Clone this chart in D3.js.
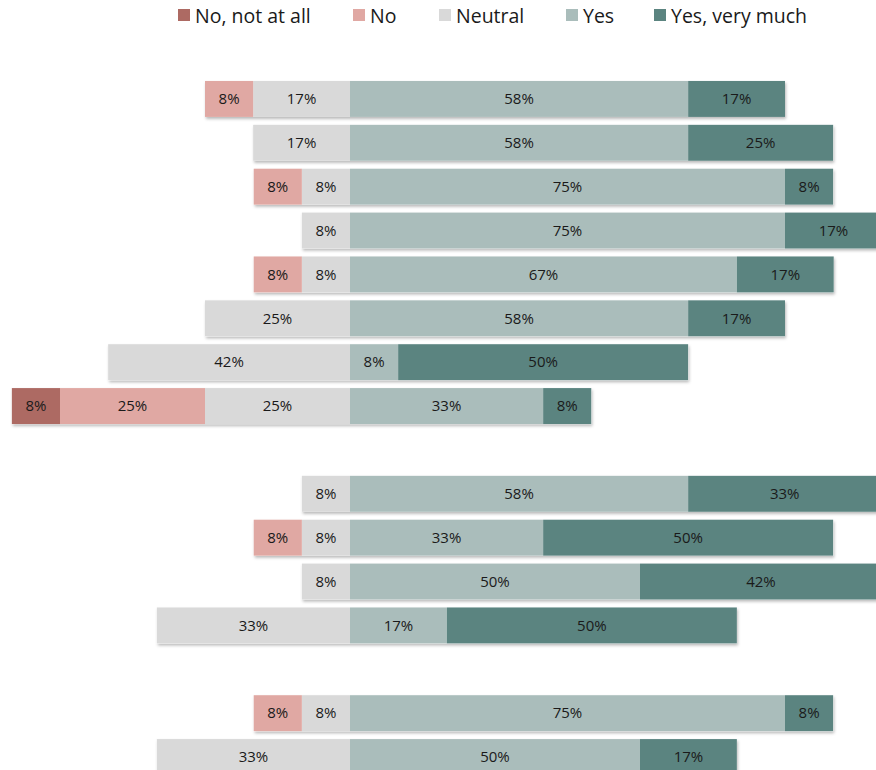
<!DOCTYPE html>
<html>
<head>
<meta charset="utf-8">
<script src="https://cdn.jsdelivr.net/npm/d3@7"></script>
<style>
  body { margin: 0; background: #fff; }
  svg { display: block; font-family: "Open Sans", "Noto Sans", sans-serif; }
</style>
</head>
<body>
<div id="chart"></div>
<script>
// answers per row, in percent (empty slots are gaps between groups)
var categories = ["No, not at all", "No", "Neutral", "Yes", "Yes, very much"];
var colors = ["#ad6a63", "#e0a8a3", "#d9d9d9", "#aabdbb", "#5b8480"];
var rowSlots = [0, 1, 2, 3, 4, 5, 6, 7, 9, 10, 11, 12, 14, 15];
var notAtAll = [0, 0, 0, 0, 0, 0, 0, 8.3, 0, 0, 0, 0, 0, 0];
var no       = [8.3, 0, 8.3, 0, 8.3, 0, 0, 25, 0, 8.3, 0, 0, 8.3, 0];
var neutral  = [16.7, 16.7, 8.3, 8.3, 8.3, 25, 41.7, 25, 8.3, 8.3, 8.3, 33.3, 8.3, 33.3];
var yes      = [58.3, 58.3, 75, 75, 66.7, 58.3, 8.3, 33.3, 58.3, 33.3, 50, 16.7, 75, 50];
var yesMuch  = [16.7, 25, 8.3, 16.7, 16.7, 16.7, 50, 8.3, 33.3, 50, 41.7, 50, 8.3, 16.7];

var W = 876, H = 770, center = 350;
var svg = d3.select("#chart").append("svg").attr("width", W).attr("height", H);

var defs = svg.append("defs");
var f = defs.append("filter").attr("id", "shadow").attr("x", "-5%").attr("y", "-20%").attr("width", "110%").attr("height", "150%");
f.append("feDropShadow").attr("dx", 1).attr("dy", 2).attr("stdDeviation", 1.5)
  .attr("flood-color", "#000").attr("flood-opacity", 0.28);

var x = d3.scaleLinear().domain([-100, 100]).range([center - 580, center + 580]);
var y = d3.scaleBand().domain(d3.range(16)).range([77, 779]).paddingInner(0.18).paddingOuter(0.09);

var fmt = function (v) { return Math.round(v) + "%"; };

rowSlots.forEach(function (slot, i) {
  var segs = [];
  // left side: neutral next to center, then No, then Not at all
  var left = 0;
  [[2, neutral[i]], [1, no[i]], [0, notAtAll[i]]].forEach(function (p) {
    if (p[1] > 0) { segs.push({ c: p[0], x0: -(left + p[1]), x1: -left, v: p[1] }); left += p[1]; }
  });
  var right = 0;
  [[3, yes[i]], [4, yesMuch[i]]].forEach(function (p) {
    if (p[1] > 0) { segs.push({ c: p[0], x0: right, x1: right + p[1], v: p[1] }); right += p[1]; }
  });
  var g = svg.append("g");
  g.append("rect")
    .attr("x", x(-left)).attr("y", y(slot))
    .attr("width", x(right) - x(-left)).attr("height", y.bandwidth())
    .attr("fill", "#fff").attr("filter", "url(#shadow)");
  g.selectAll("rect.seg").data(segs).enter().append("rect")
    .attr("class", "seg")
    .attr("x", function (d) { return x(d.x0); })
    .attr("y", y(slot))
    .attr("width", function (d) { return x(d.x1) - x(d.x0); })
    .attr("height", y.bandwidth())
    .attr("fill", function (d) { return colors[d.c]; });
  g.selectAll("text").data(segs).enter().append("text")
    .attr("x", function (d) { return (x(d.x0) + x(d.x1)) / 2; })
    .attr("y", y(slot) + y.bandwidth() / 2)
    .attr("dy", "0.35em")
    .attr("text-anchor", "middle")
    .style("font-size", "15px")
    .attr("fill", "#1a1a1a")
    .text(function (d) { return fmt(d.v); });
});

// legend
var legendX = [178, 353, 439, 566, 654];
var lg = svg.selectAll("g.legend").data(categories).enter().append("g")
  .attr("class", "legend")
  .attr("transform", function (d, i) { return "translate(" + legendX[i] + ",0)"; });
lg.append("rect").attr("x", 0).attr("y", 9).attr("width", 12).attr("height", 12)
  .attr("fill", function (d, i) { return colors[i]; });
lg.append("text").attr("x", 17).attr("y", 16).attr("dy", "0.35em")
  .style("font-size", "19.5px").attr("fill", "#1a1a1a")
  .text(function (d) { return d; });
</script>
</body>
</html>
